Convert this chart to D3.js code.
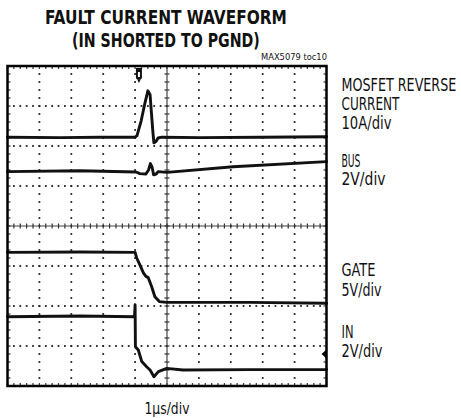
<!DOCTYPE html>
<html>
<head>
<meta charset="utf-8">
<script src="https://cdn.jsdelivr.net/npm/d3@7"></script>
<style>
  html, body { margin: 0; padding: 0; background: #fff; }
  svg { display: block; }
  text { font-family: "Liberation Sans Narrow", "Arial Narrow", "DejaVu Sans Condensed", "Roboto", sans-serif; font-stretch: condensed; fill: #111; }
</style>
</head>
<body>
<script>
// ---- Data (time in µs from left edge, value in screen divisions from bottom) ----
const mosfetCurrent = [
  [0,6.22],[1.65,6.21],[2.90,6.22],[4.00,6.22],[4.06,6.26],[4.19,6.63],[4.31,7.08],
  [4.40,7.38],[4.47,7.28],[4.51,6.85],[4.56,6.33],[4.59,6.08],[4.66,6.12],[4.72,6.20],
  [4.84,6.22],[6.03,6.21],[7.92,6.22],[10,6.23]
];
const busVoltage = [
  [0,5.36],[2.27,5.38],[4.03,5.35],[4.15,5.31],[4.34,5.30],[4.42,5.40],[4.48,5.56],
  [4.53,5.48],[4.58,5.28],[4.66,5.30],[4.72,5.36],[5.00,5.34],[7.07,5.48],[10,5.61]
];
const gateVoltage = [
  [0,3.34],[2.27,3.35],[4.00,3.34],[4.05,3.20],[4.15,3.03],[4.26,2.83],[4.34,2.74],
  [4.41,2.71],[4.52,2.48],[4.62,2.23],[4.76,2.11],[4.99,2.09],[7.60,2.09],[10,2.07]
];
const inVoltage = [
  [0,1.73],[2.27,1.75],[3.98,1.73],[4.00,2.03],[4.01,0.98],[4.10,0.90],[4.21,0.61],
  [4.36,0.48],[4.47,0.40],[4.59,0.23],[4.73,0.36],[4.99,0.44],[5.50,0.40],[7.60,0.41],[10,0.41]
];
const series = [mosfetCurrent, busVoltage, gateVoltage, inVoltage];
const titleLines = ["FAULT CURRENT WAVEFORM", "(IN SHORTED TO PGND)"];
const chartId = "MAX5079 toc10";
const xLabel = "1\u00B5s/div";
const traceLabels = [
  ["MOSFET REVERSE", "CURRENT", "10A/div"],
  ["BUS", "2V/div"],
  ["GATE", "5V/div"],
  ["IN", "2V/div"]
];
const triggerTime = 4.12;
const inRefLevel = 0.8;

// ---- Layout ----
const W = 461, H = 418;
const svg = d3.select("body").append("svg").attr("width", W).attr("height", H);
const x = d3.scaleLinear().domain([0, 10]).range([7.5, 326.5]);
const y = d3.scaleLinear().domain([0, 8]).range([386, 66]);

function fitText(parent, str, px, py, size, width, anchor, weight) {
  const g = parent.append("g");
  const t = g.append("text").attr("font-size", size).attr("font-weight", weight || "normal").text(str);
  const w = t.node().getComputedTextLength() || width;
  const sx = width / w;
  const left = anchor === "middle" ? px - width / 2 : anchor === "end" ? px - width : px;
  g.attr("transform", `translate(${left},${py}) scale(${sx},1)`);
  return g;
}

// Title
fitText(svg, titleLines[0], 166, 23.5, 19.5, 242, "middle", "bold");
fitText(svg, titleLines[1], 166, 46.5, 19.5, 188, "middle", "bold");
fitText(svg, chartId, 327, 59.5, 9.5, 66, "end");

// Grid
const grid = svg.append("g");
const minorX = d3.range(0, 10.0001, 0.2);
const minorY = d3.range(0, 8.0001, 0.2);
const majorXs = d3.range(1, 10).filter(d => d !== 5);
const majorYs = d3.range(1, 8).filter(d => d !== 4);
majorYs.forEach(v => {
  grid.selectAll(null).data(minorX.slice(1, -1)).enter().append("rect")
    .attr("x", d => x(d) - 0.9).attr("y", y(v) - 0.9).attr("width", 1.8).attr("height", 1.8)
    .attr("fill", "#222");
});
majorXs.forEach(t => {
  grid.selectAll(null).data(minorY.slice(1, -1)).enter().append("rect")
    .attr("x", x(t) - 0.9).attr("y", d => y(d) - 0.9).attr("width", 1.8).attr("height", 1.8)
    .attr("fill", "#222");
});
grid.append("line").attr("x1", x(0)).attr("x2", x(10)).attr("y1", y(4)).attr("y2", y(4))
  .attr("stroke", "#444").attr("stroke-width", 1.2);
grid.append("line").attr("x1", x(5)).attr("x2", x(5)).attr("y1", y(0)).attr("y2", y(8))
  .attr("stroke", "#444").attr("stroke-width", 1.2);
grid.selectAll(null).data(minorX).enter().append("line")
  .attr("x1", d => x(d)).attr("x2", d => x(d)).attr("y1", y(4) - 2.5).attr("y2", y(4) + 2.5)
  .attr("stroke", "#333").attr("stroke-width", 1.2);
grid.selectAll(null).data(minorY).enter().append("line")
  .attr("y1", d => y(d)).attr("y2", d => y(d)).attr("x1", x(5) - 2.5).attr("x2", x(5) + 2.5)
  .attr("stroke", "#333").attr("stroke-width", 1.2);
grid.selectAll(null).data(minorX).enter().append("line")
  .attr("x1", d => x(d)).attr("x2", d => x(d)).attr("y1", y(8)).attr("y2", y(8) + 3)
  .attr("stroke", "#444").attr("stroke-width", 1.3);
grid.selectAll(null).data(minorX).enter().append("line")
  .attr("x1", d => x(d)).attr("x2", d => x(d)).attr("y1", y(0)).attr("y2", y(0) - 3)
  .attr("stroke", "#444").attr("stroke-width", 1.3);
grid.selectAll(null).data(minorY).enter().append("line")
  .attr("y1", d => y(d)).attr("y2", d => y(d)).attr("x1", x(0)).attr("x2", x(0) + 3)
  .attr("stroke", "#444").attr("stroke-width", 1.3);
grid.selectAll(null).data(minorY).enter().append("line")
  .attr("y1", d => y(d)).attr("y2", d => y(d)).attr("x1", x(10)).attr("x2", x(10) - 3)
  .attr("stroke", "#444").attr("stroke-width", 1.3);

// Traces
const line = d3.line().x(d => x(d[0])).y(d => y(d[1]));
svg.append("g").selectAll("path").data(series).enter().append("path")
  .attr("d", line).attr("fill", "none").attr("stroke", "#111")
  .attr("stroke-width", 2.9).attr("stroke-linejoin", "round").attr("stroke-linecap", "round");

// Frame
svg.append("rect").attr("x", x(0)).attr("y", y(8)).attr("width", x(10) - x(0)).attr("height", y(0) - y(8))
  .attr("fill", "none").attr("stroke", "#000").attr("stroke-width", 2.5);

// Trigger marker
const tx = x(triggerTime), ty = y(8);
svg.append("path")
  .attr("d", `M${tx-3},${ty+2} h6 v9 q0,3 -3,3 q-3,0 -3,-3 z`).attr("fill", "#111");
svg.append("rect").attr("x", tx - 1).attr("y", ty + 6).attr("width", 2).attr("height", 5).attr("fill", "#fff");
svg.append("path").attr("d", `M${tx-1.5},${ty+14} h3 l-1.5,3 z`).attr("fill", "#111");

// Reference marker for IN trace
const ry = y(inRefLevel), rx = x(10);
svg.append("path").attr("d", `M${rx - 5},${ry} L${rx},${ry - 4.5} L${rx},${ry + 4.5} Z`).attr("fill", "#000");

// X label
fitText(svg, xLabel, x(5), 414, 16.5, 45, "middle");

// Trace labels
const labelBaselines = [[91, 110, 129], [166.5, 185], [276, 295.5], [337.5, 357]];
const labelWidths = [[115, 58, 50], [19, 44], [34, 40], [12, 41]];
traceLabels.forEach((lines, i) => {
  lines.forEach((s, j) => {
    fitText(svg, s, 341.5, labelBaselines[i][j], 17, labelWidths[i][j], "start");
  });
});
</script>
</body>
</html>
